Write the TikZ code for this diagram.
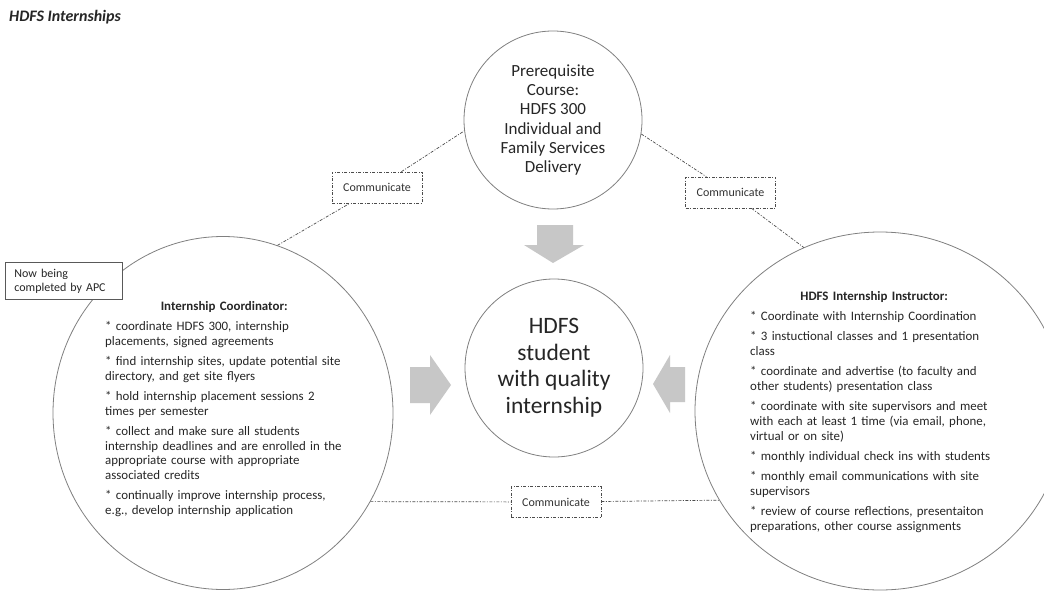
\documentclass[tikz,border=0pt]{standalone}
\usepackage{fontspec}
\setmainfont{Carlito}
\usetikzlibrary{shapes.geometric}
\begin{document}
\begin{tikzpicture}[x=1pt,y=-1pt,
  circ/.style={draw=black!50, line width=0.8pt, circle, inner sep=0pt, text=black!85, align=center},
  ell/.style={draw=black!50, line width=0.8pt, ellipse, inner sep=0pt},
  comm/.style={draw=black!70, line width=0.7pt, dash pattern=on 3pt off 1.5pt on 1pt off 1.5pt},
  commbox/.style={comm, fill=white, minimum width=90pt, minimum height=31pt, inner sep=0pt, font=\fontsize{12}{14}\selectfont, text=black!80},
  blk/.style={fill=black!22},
  body/.style={text width=252pt, inner sep=0pt, anchor=base west, text=black!85, font=\fontsize{12.9}{14.8}\selectfont}
]
\useasboundingbox (0,0) rectangle (1044,591);
\fill[white] (0,0) rectangle (1044,591);

% title
\node[anchor=base west, inner sep=0pt, font=\fontsize{16}{19}\selectfont\bfseries\itshape, text=black!85] (title) at (9,22) {HDFS Internships};

% circles
\node[circ, minimum size=178pt, font=\fontsize{17}{19.2}\selectfont] (T) at (553,120) {Prerequisite\\Course:\\HDFS 300\\Individual and\\Family Services\\Delivery};
\node[circ, minimum size=178pt, font=\fontsize{23.5}{26.5}\selectfont] (C) at (554,368) {HDFS\\student\\with quality\\internship};
\node[ell, minimum width=340pt, minimum height=353pt] (L) at (223,413) {};
\node[ell, minimum width=370pt, minimum height=358pt] (R) at (880,411) {};

% texts inside the side circles
\node[body] (Ltext) at (105,310.5) {\setlength{\parskip}{5.3pt}\centering\hspace*{-14pt}\textbf{Internship Coordinator:}\par\raggedright
* coordinate HDFS 300, internship\\placements, signed agreements\par
* find internship sites, update potential site\\directory, and get site flyers\par
* hold internship placement sessions 2\\times per semester\par
* collect and make sure all students\\internship deadlines and are enrolled in the\\appropriate course with appropriate\\associated credits\par
* continually improve internship process,\\e.g., develop internship application\par};

\node[body] (Rtext) at (750,300.5) {\setlength{\parskip}{5.3pt}\centering\hspace*{-4pt}\textbf{HDFS Internship Instructor:}\par\raggedright
* Coordinate with Internship Coordination\par
* 3 instuctional classes and 1 presentation\\class\par
* coordinate and advertise (to faculty and\\other students) presentation class\par
* coordinate with site supervisors and meet\\with each at least 1 time (via email, phone,\\virtual or on site)\par
* monthly individual check ins with students\par
* monthly email communications with site\\supervisors\par
* review of course reflections, presentaiton\\preparations, other course assignments\par};

% block arrows
\fill[blk] (537,225) -- (573,225) -- (573,245) -- (584,245) -- (553,263) -- (524,245) -- (537,245) -- cycle;
\fill[blk] (410,367) -- (430,367) -- (430,355) -- (451,385) -- (430,415) -- (430,403) -- (410,403) -- cycle;
\fill[blk] (685,367) -- (670,367) -- (670,355) -- (653,384) -- (670,413) -- (670,402) -- (685,402) -- cycle;

% communicate boxes
\node[commbox] (c1) at (377,187.5) {Communicate};
\node[commbox] (c2) at (730.5,192.5) {Communicate};
\node[commbox] (c3) at (556,502) {Communicate};

\draw[comm] (L.72) -- (c1) -- (T.187);
\draw[comm] (T.-9) -- (c2) -- (R.115);
\draw[comm] (L.-31.5) -- (c3) -- (R.209.6);

% note box
\node[draw=black!65, line width=0.8pt, fill=white, anchor=north west, minimum width=117pt, minimum height=37pt, text width=99pt, inner xsep=9pt, inner ysep=0pt, align=left, font=\fontsize{12}{14}\selectfont, text=black!85] (apc) at (5,262) {Now being\\completed by APC};
\end{tikzpicture}
\end{document}
